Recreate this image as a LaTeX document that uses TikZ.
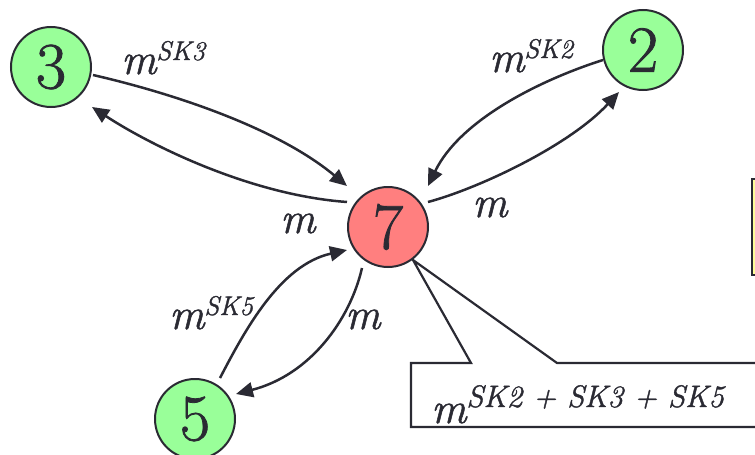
\documentclass[tikz,border=0pt]{standalone}
\usepackage{fontspec}
\newfontfamily\heavy{Latin Modern Roman}[FakeBold=1.2]
\usetikzlibrary{arrows.meta,calc}
\definecolor{stroke}{HTML}{2A2A33}
\definecolor{ngreen}{HTML}{99FF99}
\definecolor{nred}{HTML}{FF7F7F}
\definecolor{nyellow}{HTML}{FFFF99}
\begin{document}
\begin{tikzpicture}[x=1pt,y=-1pt,
  state/.style={circle, draw=stroke, line width=2pt, minimum size=80pt, inner sep=0pt,
                font=\heavy\fontsize{66}{66}\selectfont, text=stroke},
  link/.style={draw=stroke, line width=2.5pt, -{Triangle[length=17pt,width=15pt]}},
  lbl/.style={anchor=base west, inner sep=0pt, text=stroke, font=\heavy\fontsize{44}{44}\selectfont\itshape},
  outline/.style={draw=stroke, line width=2.2pt, fill=white}]
\useasboundingbox (0,0) rectangle (755,455);
% yellow box at right edge (cut)
\draw[draw=stroke, line width=2.5pt, fill=nyellow] (752,179) rectangle (775,275);
% callout
\draw[outline] (411,363) -- (471,363) -- (413,260) -- (557,363) -- (775,363) -- (775,427) -- (411,427) -- cycle;
\node[lbl] (call) at (431,423) {m\raisebox{16pt}{\fontsize{31}{31}\selectfont SK2 + SK3 + SK5}};
% nodes
\node[state, fill=ngreen] (n3) at (51,67) {3};
\node[state, fill=ngreen] (n2) at (643,50) {2};
\node[state, fill=nred] (n7) at (388,227) {7};
\node[state, fill=ngreen] (n5) at (195,419) {5};
% connectors
\draw[link] ($(n3)+(42,8)$) .. controls (180,95) and (280,130) .. ($(n7)+(-41,-41)$);
\draw[link] ($(n7)+(-41,-25)$) .. controls (250,195) and (150,145) .. ($(n3)+(41,40)$);
\draw[link] ($(n2)+(-40,10)$) .. controls (540,80) and (460,120) .. ($(n7)+(40,-41)$);
\draw[link] ($(n7)+(40,-25)$) .. controls (480,188) and (570,145) .. ($(n2)+(-24,42)$);
\draw[link] ($(n5)+(25,-41)$) .. controls (245,330) and (280,265) .. ($(n7)+(-41,23)$);
\draw[link] ($(n7)+(-26,41)$) .. controls (350,320) and (310,375) .. ($(n5)+(41,-25)$);
% labels
\node[lbl] (l3) at (121,74) {m\raisebox{14pt}{\fontsize{27}{27}\selectfont SK3}};
\node[lbl] (l2) at (489,72) {m\raisebox{14pt}{\fontsize{27}{27}\selectfont SK2}};
\node[lbl] (l72) at (472,217) {m};
\node[lbl] (l73) at (280,233) {m};
\node[lbl] (l5) at (169,329) {m\raisebox{14pt}{\fontsize{27}{27}\selectfont SK5}};
\node[lbl] (l75) at (345,329) {m};
\end{tikzpicture}
\end{document}
